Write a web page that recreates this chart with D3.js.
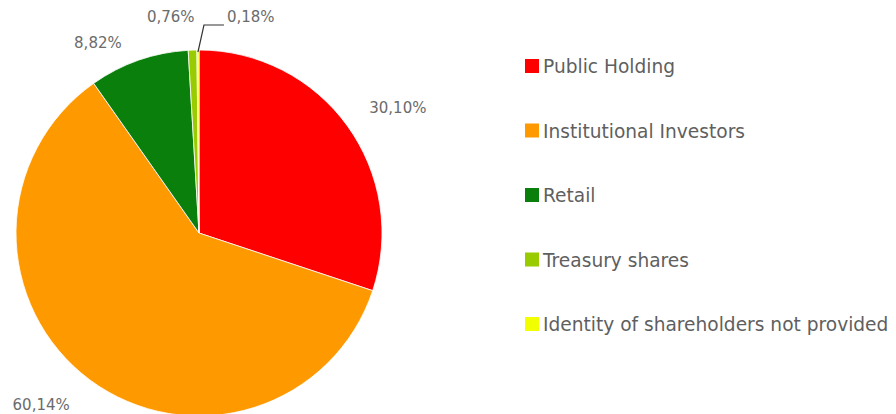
<!DOCTYPE html>
<html>
<head>
<meta charset="utf-8">
<script src="https://cdn.jsdelivr.net/npm/d3@7"></script>
<style>
  html, body { margin: 0; padding: 0; background: #fff; }
  svg { display: block; }
</style>
</head>
<body>
<svg id="chart" width="896" height="414"></svg>
<script>
// Shareholder structure
const categories = [
  "Public Holding",
  "Institutional Investors",
  "Retail",
  "Treasury shares",
  "Identity of shareholders not provided"
];
const shares = [30.10, 60.14, 8.82, 0.76, 0.18];
const valueLabels = ["30,10%", "60,14%", "8,82%", "0,76%", "0,18%"];
const sliceColors = ["#ff0000", "#ff9900", "#0b7f0b", "#99cc00", "#f2ff00"];

const svg = d3.select("#chart");
const W = 896, H = 414;
const cx = 199, cy = 233, R = 183;

const data = categories.map((c, i) => ({ name: c, value: shares[i], label: valueLabels[i], color: sliceColors[i] }));

const pie = d3.pie().value(d => d.value).sort(null);
const arcs = pie(data);
const arc = d3.arc().innerRadius(0).outerRadius(R);

const g = svg.append("g").attr("transform", `translate(${cx},${cy})`);

g.selectAll("path.slice")
  .data(arcs)
  .join("path")
  .attr("class", "slice")
  .attr("d", arc)
  .attr("fill", d => d.data.color)
  .attr("stroke", "#ffffff")
  .attr("stroke-width", 0.8)
  .attr("stroke-linejoin", "round");

// Outside value labels
const labelR = 210;
const nudge = [[0, -2], [-4, 3], [-8, 8], [3, -6], [0, 0]];
const mid = d => (d.startAngle + d.endAngle) / 2;

arcs.forEach((d, i) => {
  const a = mid(d);
  if (i === 4) {
    // tiny slice: label with an elbow connector
    const sx = R * Math.sin(a), sy = -R * Math.cos(a) + 2;
    const ex = sx + 6, ey = -(R + 25);
    const hx = ex + 20;
    g.append("path")
      .attr("d", `M${sx},${sy} L${ex},${ey} L${hx},${ey}`)
      .attr("fill", "none")
      .attr("stroke", "#333")
      .attr("stroke-width", 1.2);
    g.append("text")
      .attr("x", hx + 3)
      .attr("y", ey - 3)
      .attr("text-anchor", "start")
      .attr("font-family", "DejaVu Sans, Verdana, sans-serif")
      .attr("font-size", 15)
      .attr("fill", "#6b6b6b")
      .text(d.data.label);
    return;
  }
  const x = labelR * Math.sin(a) + nudge[i][0];
  const y = -labelR * Math.cos(a) + 5 + nudge[i][1];
  g.append("text")
    .attr("x", x)
    .attr("y", y)
    .attr("text-anchor", x < 0 ? "end" : "start")
    .attr("font-family", "DejaVu Sans, Verdana, sans-serif")
    .attr("font-size", 15)
    .attr("fill", "#6b6b6b")
    .text(d.data.label);
});

// Legend
const legendY = d3.scalePoint().domain(categories).range([66, 324]);
const legend = svg.append("g");
const items = legend.selectAll("g.item")
  .data(data)
  .join("g")
  .attr("class", "item")
  .attr("transform", d => `translate(525,${legendY(d.name)})`);

items.append("rect")
  .attr("x", 0)
  .attr("y", -7)
  .attr("width", 14)
  .attr("height", 14)
  .attr("fill", d => d.color);

items.append("text")
  .attr("x", 18)
  .attr("y", 7)
  .attr("font-family", "DejaVu Sans, Verdana, sans-serif")
  .attr("font-size", 18.6)
  .attr("fill", "#5f5f5f")
  .text(d => d.name);
</script>
</body>
</html>
